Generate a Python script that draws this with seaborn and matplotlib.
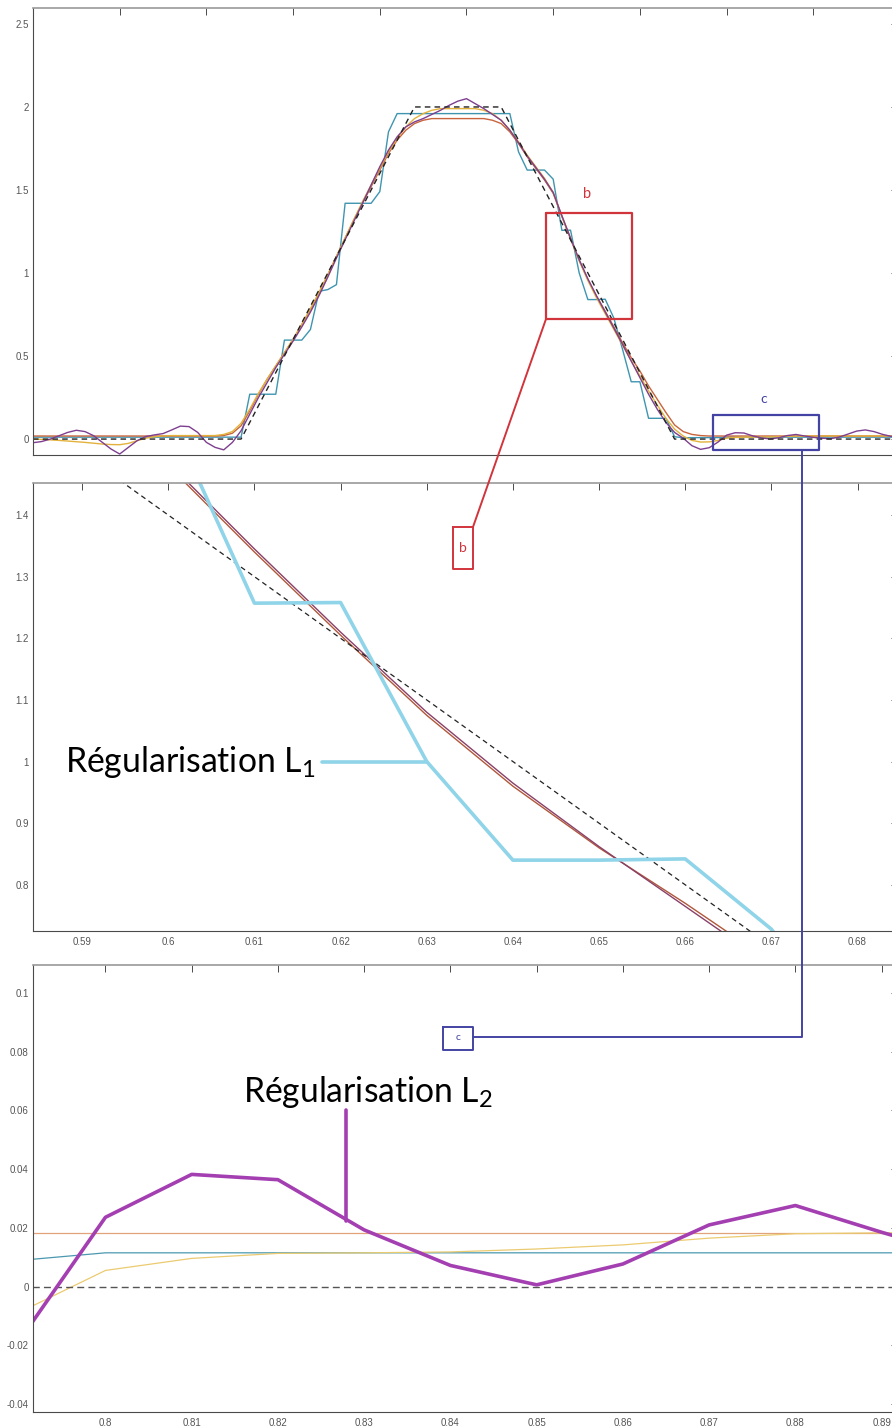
import numpy as np
import matplotlib.pyplot as plt
import seaborn as sns
from matplotlib.patches import Rectangle
from matplotlib.lines import Line2D
from matplotlib.ticker import FuncFormatter

# reconstructions are sampled every 0.01 on [0, 1]
x_grid = np.round(np.linspace(0, 1, 101), 2)

# true signal (trapezoid, dashed)
x_true = [0.0, 0.24, 0.44, 0.54, 0.74, 1.0]
y_true = [0.0, 0.0, 2.0, 2.0, 0.0, 0.0]

# L1 (TV) regularisation - staircase
y_l1 = [0.0115, 0.0115, 0.0115, 0.0115, 0.0115, 0.0115, 0.0115, 0.0115, 0.0115, 0.0115,
        0.0115, 0.0115, 0.0115, 0.0115, 0.0115, 0.0115, 0.0115, 0.0115, 0.0115, 0.0115,
        0.0115, 0.0115, 0.0115, 0.0115, 0.0115, 0.27, 0.27, 0.27, 0.27, 0.596,
        0.596, 0.596, 0.66, 0.89, 0.90, 0.93, 1.42, 1.42, 1.42, 1.42,
        1.49, 1.85, 1.96, 1.96, 1.96, 1.96, 1.96, 1.96, 1.96, 1.96,
        1.96, 1.96, 1.96, 1.96, 1.96, 1.96, 1.73, 1.62, 1.62, 1.62,
        1.565, 1.257, 1.258, 1.0, 0.84, 0.84, 0.842, 0.728, 0.54, 0.345,
        0.345, 0.125, 0.125, 0.125, 0.014, 0.008, 0.0085, 0.0087, 0.0088, 0.0089,
        0.0115, 0.0115, 0.0115, 0.0115, 0.0115, 0.0115, 0.0115, 0.0115, 0.0115, 0.0115,
        0.0115, 0.0115, 0.0115, 0.0115, 0.0115, 0.0115, 0.0115, 0.0115, 0.0115, 0.0115, 0.0115]

# smooth reconstruction (orange)
y_orange = [0.0183, 0.0183, 0.0183, 0.0183, 0.0183, 0.0183, 0.0183, 0.0183, 0.0183, 0.0183,
            0.0183, 0.0183, 0.0183, 0.0183, 0.0183, 0.0183, 0.0183, 0.0183, 0.0183, 0.0183,
            0.0183, 0.0183, 0.021, 0.035, 0.08, 0.17, 0.27, 0.36, 0.44, 0.52,
            0.60, 0.69, 0.78, 0.88, 0.99, 1.10, 1.21, 1.32, 1.42, 1.52,
            1.62, 1.72, 1.80, 1.86, 1.90, 1.92, 1.93, 1.93, 1.93, 1.93,
            1.93, 1.93, 1.93, 1.92, 1.90, 1.85, 1.78, 1.70, 1.63, 1.56,
            1.48, 1.34, 1.205, 1.075, 0.96, 0.86, 0.77, 0.675, 0.58, 0.49,
            0.41, 0.32, 0.24, 0.16, 0.085, 0.045, 0.028, 0.021, 0.0183, 0.0183,
            0.0183, 0.0183, 0.0183, 0.0183, 0.0183, 0.0183, 0.0183, 0.0183, 0.0183, 0.0183,
            0.0183, 0.0183, 0.0183, 0.0183, 0.0183, 0.0183, 0.0183, 0.0183, 0.0183, 0.0183, 0.0183]

# smooth reconstruction (yellow)
y_yellow = [0.0, -0.002, -0.005, -0.008, -0.012, -0.016, -0.020, -0.025, -0.030, -0.033,
            -0.034, -0.026, -0.010, 0.005, 0.014, 0.019, 0.021, 0.021, 0.021, 0.021,
            0.021, 0.021, 0.028, 0.045, 0.095, 0.18, 0.275, 0.36, 0.44, 0.52,
            0.60, 0.69, 0.785, 0.885, 0.99, 1.10, 1.21, 1.32, 1.43, 1.53,
            1.63, 1.73, 1.81, 1.88, 1.93, 1.96, 1.98, 1.99, 1.99, 1.99,
            1.99, 1.99, 1.98, 1.96, 1.92, 1.86, 1.79, 1.71, 1.64, 1.57,
            1.485, 1.345, 1.21, 1.075, 0.955, 0.85, 0.755, 0.66, 0.565, 0.47,
            0.38, 0.29, 0.205, 0.125, 0.06, 0.018, -0.008, -0.018, -0.017, -0.0088,
            0.0055, 0.0096, 0.0113, 0.0115, 0.0118, 0.0128, 0.0142, 0.0165, 0.0180, 0.0183,
            0.0185, 0.0185, 0.0185, 0.0185, 0.0185, 0.0185, 0.0185, 0.0185, 0.0185, 0.0185, 0.0185]

# L2 regularisation (purple, oscillating)
y_l2 = [-0.022, -0.015, 0.0, 0.020, 0.040, 0.053, 0.045, 0.020, -0.020, -0.060,
        -0.090, -0.050, -0.010, 0.015, 0.025, 0.033, 0.055, 0.078, 0.075, 0.040,
        -0.020, -0.050, -0.065, -0.020, 0.050, 0.150, 0.250, 0.340, 0.430, 0.510,
        0.590, 0.675, 0.765, 0.865, 0.975, 1.09, 1.20, 1.31, 1.42, 1.53,
        1.64, 1.74, 1.82, 1.88, 1.91, 1.93, 1.955, 1.98, 2.01, 2.035,
        2.05, 2.02, 1.99, 1.955, 1.92, 1.86, 1.785, 1.705, 1.635, 1.565,
        1.485, 1.345, 1.21, 1.08, 0.965, 0.862, 0.765, 0.668, 0.57, 0.47,
        0.37, 0.27, 0.18, 0.10, 0.04, 0.005, -0.040, -0.062, -0.052, -0.0185,
        0.0236, 0.0382, 0.0364, 0.0193, 0.0072, 0.0006, 0.0077, 0.0210, 0.0276, 0.0185,
        0.010, 0.005, 0.002, 0.012, 0.030, 0.048, 0.055, 0.045, 0.028, 0.016, 0.012]

top_xticks = [0, 0.1, 0.2, 0.3, 0.4, 0.5, 0.6, 0.7, 0.8, 0.9]
top_yticks = [0, 0.5, 1, 1.5, 2, 2.5]
mid_xticks = [0.59, 0.6, 0.61, 0.62, 0.63, 0.64, 0.65, 0.66, 0.67, 0.68]
mid_yticks = [0.8, 0.9, 1.0, 1.1, 1.2, 1.3, 1.4]
bot_xticks = [0.8, 0.81, 0.82, 0.83, 0.84, 0.85, 0.86, 0.87, 0.88, 0.89]
bot_yticks = [-0.04, -0.02, 0, 0.02, 0.04, 0.06, 0.08, 0.1]

sns.set_style('white')
plt.rcParams['font.family'] = ['Liberation Sans', 'DejaVu Sans']
plt.rcParams['mathtext.fontset'] = 'custom'
plt.rcParams['mathtext.rm'] = 'Lato'

W, H = 892, 1428
fig = plt.figure(figsize=(W / 100, H / 100), dpi=100)


def px_box(l, t, r, b):
    return [l / W, 1 - b / H, (r - l) / W, (b - t) / H]


def fx(p):
    return p / W


def fy(p):
    return 1 - p / H


ax_top = fig.add_axes(px_box(33, 8, 898, 455))
ax_mid = fig.add_axes(px_box(33, 483, 898, 931))
ax_bot = fig.add_axes(px_box(33, 965, 898, 1412))

fmt = FuncFormatter(lambda v, p: f'{v:g}')


def style(ax, xticks, yticks, xlim, ylim):
    ax.set_xlim(xlim)
    ax.set_ylim(ylim)
    ax.set_xticks(xticks)
    ax.set_yticks(yticks)
    ax.xaxis.set_major_formatter(fmt)
    ax.yaxis.set_major_formatter(fmt)
    ax.tick_params(direction='in', length=5, width=0.7, top=True, right=True,
                   labelsize=7, labelcolor='#555555', color='#4a4a4a')
    ax.tick_params(axis='x', pad=4)
    ax.tick_params(axis='y', pad=3)
    for side in ['left', 'bottom']:
        ax.spines[side].set_color('#4a4a4a')
        ax.spines[side].set_linewidth(0.8)
    for side in ['top', 'right']:
        ax.spines[side].set_color('#9a9a9a')
        ax.spines[side].set_linewidth(1.2)
    ax.set_xlabel('')
    ax.set_ylabel('')


def line(ax, x, y, color, lw, **kw):
    sns.lineplot(x=x, y=y, ax=ax, color=color, linewidth=lw,
                 estimator=None, sort=False, **kw)


# ---- top: full signal
line(ax_top, x_grid, y_l1, '#3f95b0', 1.0)
line(ax_top, x_grid, y_orange, '#c8643c', 1.0)
line(ax_top, x_grid, y_yellow, '#e3b23c', 1.0)
line(ax_top, x_grid, y_l2, '#7e3f8f', 1.0)
line(ax_top, x_true, y_true, '#222222', 1.0, linestyle=(0, (4, 3)))
style(ax_top, top_xticks, top_yticks, (0, 0.9977), (-0.096, 2.596))

# ---- middle: zoom b
line(ax_mid, x_grid, y_orange, '#b0583a', 1.0)
line(ax_mid, x_grid, y_l2, '#8a4068', 1.0)
line(ax_mid, x_true, y_true, '#222222', 0.9, linestyle=(0, (4, 3)))
line(ax_mid, x_grid, y_l1, '#8fd4e8', 2.6)
style(ax_mid, mid_xticks, mid_yticks, (0.5843, 0.6847), (0.725, 1.452))

# ---- bottom: zoom c
line(ax_bot, x_grid, y_orange, '#e3a37a', 0.9)
line(ax_bot, x_grid, y_l1, '#4b98b0', 0.9)
line(ax_bot, x_grid, y_yellow, '#ebcb70', 0.9)
line(ax_bot, x_true, y_true, '#555555', 1.0, linestyle=(0, (5, 3)))
line(ax_bot, x_grid, y_l2, '#a43fb2', 2.6)
style(ax_bot, bot_xticks, bot_yticks, (0.7916, 0.8919), (-0.0427, 0.1095))

# hide the cut-off tick labels of the top panel (cropped screenshot)
fig.add_artist(Rectangle((0, fy(481)), 1, (481 - 461) / H, transform=fig.transFigure,
                         facecolor='white', edgecolor='none', zorder=1))

red = '#d1343b'
blue = '#4343a3'


def seg(points, color, lw):
    xs = [fx(p[0]) for p in points]
    ys = [fy(p[1]) for p in points]
    fig.add_artist(Line2D(xs, ys, color=color, linewidth=lw,
                          transform=fig.transFigure, zorder=4))


def rect(l, t, r, b, color, lw):
    seg([(l, t), (r, t), (r, b), (l, b), (l, t)], color, lw)


# box b and its link
rect(546, 213, 632, 319, red, 1.6)
seg([(546, 319), (473, 527)], red, 1.4)
rect(453, 527, 473, 569, red, 1.4)
fig.text(fx(587), fy(194), 'b', color=red, fontsize=10.5, family='Lato',
         ha='center', va='center', zorder=5)
fig.text(fx(463), fy(548), 'b', color=red, fontsize=10, family='Lato',
         ha='center', va='center', zorder=5)

# box c and its link
rect(713, 415, 819, 450, blue, 1.6)
seg([(802, 450), (802, 1037), (473, 1037)], blue, 1.4)
rect(443, 1027, 473, 1050, blue, 1.4)
fig.text(fx(764), fy(399), 'c', color=blue, fontsize=10, family='Lato',
         ha='center', va='center', zorder=5)
fig.text(fx(458), fy(1038), 'c', color=blue, fontsize=7.5, family='Lato',
         ha='center', va='center', zorder=5)

# labels of the highlighted curves
t1 = fig.text(fx(65), fy(772), r'Régularisation L$_\mathrm{1}$', family='Lato',
              fontsize=22, color='black', ha='left', va='baseline', zorder=5)
t2 = fig.text(fx(243), fy(1102), r'Régularisation L$_\mathrm{2}$', family='Lato',
              fontsize=22, color='black', ha='left', va='baseline', zorder=5)
fig.canvas.draw()
for t in (t1, t2):
    w = t.get_window_extent().width
    t.set_fontsize(t.get_fontsize() * 250 / w)

seg([(322, 762), (427, 762)], '#8fd4e8', 2.6)
seg([(346, 1110), (346, 1221)], '#a43fb2', 2.6)

fig.savefig('out.png', dpi=100)
